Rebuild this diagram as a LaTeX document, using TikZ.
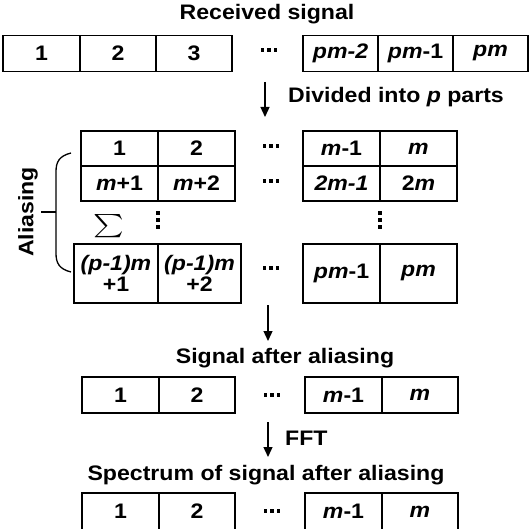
\documentclass[tikz,border=0pt]{standalone}
\usepackage{fontspec}
\setmainfont[FakeStretch=1.1]{Liberation Sans}
\usepackage{amsmath}
\usepackage{tikz}
\usetikzlibrary{arrows.meta}

\begin{document}
\begin{tikzpicture}[x=1pt, y=-1pt,
      cell/.style={draw, line width=1.3pt, inner sep=0pt, minimum height=36pt,
                   align=center, font=\fontsize{21}{21}\selectfont\bfseries},
      lbl/.style={font=\fontsize{21}{22}\selectfont\bfseries, inner sep=0pt},
      arr/.style={-{Triangle[length=10pt, width=9pt]}, line width=1.3pt}]
    \useasboundingbox (0,0) rectangle (532,529);
    % received signal
    \node[lbl] (rtitle) at (267,14) {Received signal};
    \node[cell, minimum width=77pt] (r1) at (41.5,53.5) {1};
    \node[cell, minimum width=76pt] (r2) at (118,53.5)  {2};
    \node[cell, minimum width=76pt] (r3) at (194,53.5)  {3};
    \coordinate (rdots) at (269,50);
    \node[cell, minimum width=75pt] (r4) at (340.5,53.5) {\textit{pm-2}};
    \node[cell, minimum width=75pt] (r5) at (415.5,53.5) {\textit{pm}-1};
    \node[cell, minimum width=75pt] (r6) at (490.5,53.5) {\textit{pm}};
    \coordinate (a1s) at (265,82);
    \coordinate (a1e) at (265,117);
    \draw[arr] (a1s) -- (a1e);
    \node[lbl, anchor=west] (divide) at (288,97) {Divided into \textit{p} parts};
    % parts
    \node[cell, minimum width=77pt, minimum height=35pt] (g11) at (119.5,148.5) {1};
    \node[cell, minimum width=77pt, minimum height=35pt] (g12) at (196.5,148.5) {2};
    \coordinate (gdots1) at (271,146);
    \node[cell, minimum width=77pt, minimum height=35pt] (g13) at (341.5,148.5) {\textit{m}-1};
    \node[cell, minimum width=77pt, minimum height=35pt] (g14) at (418.5,148.5) {\textit{m}};
    \node[cell, minimum width=77pt, minimum height=35pt] (g21) at (119.5,183.5) {\textit{m}+1};
    \node[cell, minimum width=77pt, minimum height=35pt] (g22) at (196.5,183.5) {\textit{m}+2};
    \coordinate (gdots2) at (271,181);
    \node[cell, minimum width=77pt, minimum height=35pt] (g23) at (341.5,183.5) {\textit{2m-1}};
    \node[cell, minimum width=77pt, minimum height=35pt] (g24) at (418.5,183.5) {2\textit{m}};
    \node[lbl] (sum) at (109,232) {\smash{\scalebox{1.4}[1.12]{$\sum$}}};
    \coordinate (vdots1) at (158,220);
    \coordinate (vdots2) at (380,220);
    \node[cell, minimum width=84pt, minimum height=59pt] (g31) at (116,273.5)   {\textit{(p-1)m}\\+1};
    \node[cell, minimum width=83pt, minimum height=59pt] (g32) at (199.5,273.5) {\textit{(p-1)m}\\+2};
    \coordinate (gdots3) at (271,268);
    \node[cell, minimum width=77pt, minimum height=59pt] (g33) at (341.5,273.5) {\textit{pm}-1};
    \node[cell, minimum width=77pt, minimum height=59pt] (g34) at (418.5,273.5) {\textit{pm}};
    % aliasing bracket
    \coordinate (btop) at (71,153);
    \coordinate (bbot) at (71,272);
    \coordinate (btip) at (41,212);
    \draw[line width=1.3pt] (btop) .. controls (59,156) and (56,162) .. (56,172)
      -- (56,253) .. controls (56,263) and (59,269) .. (bbot);
    \draw[line width=1.3pt] (btip) -- (56,212);
    \node[lbl, rotate=90] (alias) at (28,212) {Aliasing};
    \coordinate (a2s) at (268,305);
    \coordinate (a2e) at (268,341);
    \draw[arr] (a2s) -- (a2e);
    % signal after aliasing
    \node[lbl] (stitle) at (285,358) {Signal after aliasing};
    \node[cell, minimum width=77pt] (s1) at (120.5,395) {1};
    \node[cell, minimum width=76pt] (s2) at (197,395)   {2};
    \coordinate (sdots) at (272,395);
    \node[cell, minimum width=77pt] (s3) at (343.5,395) {\textit{m}-1};
    \node[cell, minimum width=76pt] (s4) at (420,395)   {\textit{m}};
    \coordinate (a3s) at (268,422);
    \coordinate (a3e) at (268,457);
    \draw[arr] (a3s) -- (a3e);
    \node[lbl, anchor=west] (fft) at (285,438) {FFT};
    % spectrum
    \node[lbl] (ftitle) at (266,475) {Spectrum of signal after aliasing};
    \node[cell, minimum width=77pt, minimum height=37pt] (f1) at (120.5,511.5) {1};
    \node[cell, minimum width=76pt, minimum height=37pt] (f2) at (197,511.5)   {2};
    \coordinate (fdots) at (272,511);
    \node[cell, minimum width=77pt, minimum height=37pt] (f3) at (343.5,511.5) {\textit{m}-1};
    \node[cell, minimum width=76pt, minimum height=37pt] (f4) at (420,511.5)   {\textit{m}};
    % dots
    \foreach \p in {rdots,gdots1,gdots2,gdots3,sdots,fdots}
      \foreach \d in {-6.5,0,6.5}
        \fill ([xshift=\d pt]\p) +(-1.9,-1.9) rectangle +(1.9,1.9);
    \foreach \p in {vdots1,vdots2}
      \foreach \d in {-7,0,7}
        \fill ([yshift=\d pt]\p) +(-1.9,-1.9) rectangle +(1.9,1.9);
  \end{tikzpicture}
\end{document}
